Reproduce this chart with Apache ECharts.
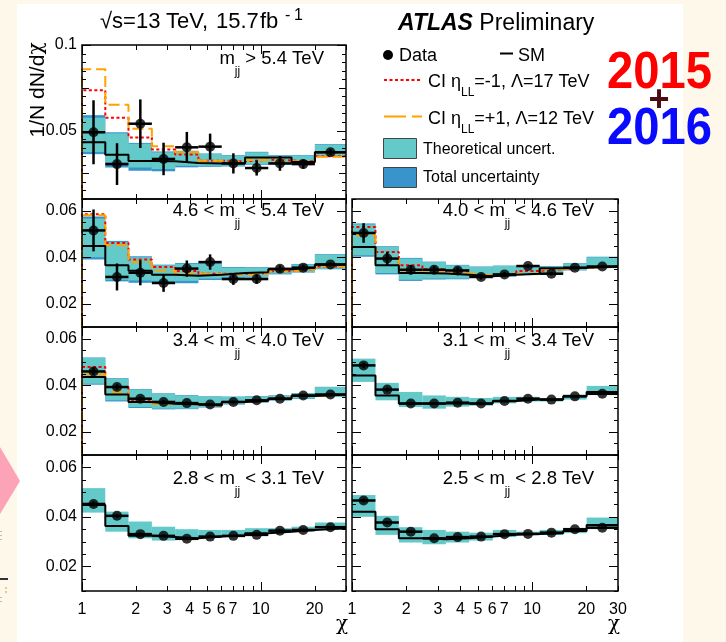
<!DOCTYPE html>
<html>
<head>
<meta charset="utf-8">
<script src="https://cdn.jsdelivr.net/npm/echarts@6/dist/echarts.min.js"></script>
<style>
  html, body { margin: 0; padding: 0; background: #fdf8ea; }
  #chart { width: 726px; height: 642px; }
</style>
</head>
<body>
<div id="chart"></div>
<script>
const FONT = '"Liberation Sans", Arial, Helvetica, sans-serif';
const GREEK = '"DejaVu Serif", "Liberation Serif", serif';

// chi binning
const chiEdges = [1, 1.35, 1.82, 2.46, 3.32, 4.48, 6.05, 8.17, 11.02, 14.88, 20.09, 30];
const chiCenters = [1.16, 1.57, 2.12, 2.86, 3.86, 5.21, 7.03, 9.49, 12.81, 17.29, 24.55];

// axis ticks and labels
const xLabelsLeft = [1, 2, 3, 4, 5, 6, 7, 10, 20];
const xLabelsRight = [1, 2, 3, 4, 5, 6, 7, 10, 20, 30];
const xMajorTicks = [1, 10];
const xMinorTicks = [2, 3, 4, 5, 6, 7, 8, 9, 20, 30];
const yLabelsTop = [0.05, 0.1];
const yMajorTop = [0.05, 0.1];
const yMediumTop = [0.025, 0.075];
const yLabelsLow = [0.02, 0.04, 0.06];

// dijet mass windows (TeV)
const massLo = [5.4, 4.6, 4.0, 3.4, 3.1, 2.8, 2.5];
const massHi = [null, 5.4, 4.6, 4.0, 3.4, 3.1, 2.8];

// m_jj > 5.4 TeV
const data0 = [0.0490, 0.0304, 0.0540, 0.0334, 0.0402, 0.0406, 0.0308, 0.0281, 0.0308, 0.0304, 0.0373];
const err0  = [0.0187, 0.0122, 0.0142, 0.0095, 0.0090, 0.0076, 0.0059, 0.0044, 0.0043, 0.0027, 0.0017];
const sm0   = [0.0431, 0.0359, 0.0322, 0.0320, 0.0310, 0.0308, 0.0308, 0.0343, 0.0343, 0.0316, 0.0373];
const th0Lo = [0.0375, 0.0314, 0.0284, 0.0275, 0.0294, 0.0294, 0.0294, 0.0304, 0.0304, 0.0310, 0.0353];
const th0Hi = [0.0575, 0.0484, 0.0423, 0.0373, 0.0379, 0.0363, 0.0353, 0.0373, 0.0353, 0.0353, 0.0418];
const tot0Lo = [0.0362, 0.0284, 0.0265, 0.0262, 0.0285, 0.0288, 0.0290, 0.0300, 0.0300, 0.0306, 0.0350];
const tot0Hi = [0.0590, 0.0490, 0.0428, 0.0378, 0.0382, 0.0366, 0.0356, 0.0376, 0.0356, 0.0356, 0.0421];
const ciM0  = [0.0735, 0.0575, 0.0460, 0.0390, 0.0360, 0.0324, 0.0320, 0.0330, 0.0325, 0.0320, 0.0350];
const ciP0  = [0.0859, 0.0651, 0.0510, 0.0408, 0.0373, 0.0324, 0.0316, 0.0328, 0.0322, 0.0314, 0.0347];

// 4.6 < m_jj < 5.4 TeV
const data1 = [0.0515, 0.0315, 0.0333, 0.0289, 0.0351, 0.0379, 0.0306, 0.0306, 0.0350, 0.0355, 0.0369];
const err1  = [0.0090, 0.0058, 0.0054, 0.0038, 0.0035, 0.0033, 0.0025, 0.0020, 0.0015, 0.0012, 0.0008];
const sm1   = [0.0448, 0.0365, 0.0342, 0.0325, 0.0320, 0.0325, 0.0332, 0.0335, 0.0348, 0.0355, 0.0367];
const th1Lo = [0.0400, 0.0303, 0.0300, 0.0298, 0.0298, 0.0308, 0.0315, 0.0315, 0.0329, 0.0336, 0.0350];
const th1Hi = [0.0566, 0.0465, 0.0400, 0.0365, 0.0372, 0.0372, 0.0355, 0.0355, 0.0350, 0.0369, 0.0411];
const tot1Lo = [0.0390, 0.0296, 0.0290, 0.0290, 0.0288, 0.0302, 0.0311, 0.0312, 0.0326, 0.0334, 0.0348];
const tot1Hi = [0.0575, 0.0470, 0.0404, 0.0368, 0.0375, 0.0375, 0.0358, 0.0357, 0.0352, 0.0371, 0.0413];
const ciM1  = [0.0584, 0.0461, 0.0390, 0.0358, 0.0341, 0.0329, 0.0329, 0.0331, 0.0340, 0.0348, 0.0360];
const ciP1  = [0.0580, 0.0451, 0.0379, 0.0343, 0.0329, 0.0327, 0.0325, 0.0329, 0.0340, 0.0348, 0.0360];

// 4.0 < m_jj < 4.6 TeV
const data2 = [0.0504, 0.0394, 0.0346, 0.0346, 0.0343, 0.0315, 0.0326, 0.0362, 0.0329, 0.0355, 0.0360];
const err2  = [0.0042, 0.0028, 0.0020, 0.0016, 0.0013, 0.0011, 0.0010, 0.0008, 0.0007, 0.0006, 0.0005];
const sm2   = [0.0444, 0.0365, 0.0332, 0.0330, 0.0325, 0.0318, 0.0325, 0.0329, 0.0352, 0.0355, 0.0360];
const th2Lo = [0.0408, 0.0332, 0.0303, 0.0308, 0.0308, 0.0315, 0.0318, 0.0325, 0.0330, 0.0345, 0.0355];
const th2Hi = [0.0541, 0.0444, 0.0394, 0.0379, 0.0365, 0.0358, 0.0362, 0.0360, 0.0360, 0.0372, 0.0400];
const tot2Lo = [0.0402, 0.0326, 0.0298, 0.0304, 0.0305, 0.0312, 0.0316, 0.0323, 0.0328, 0.0343, 0.0353];
const tot2Hi = [0.0545, 0.0447, 0.0397, 0.0381, 0.0367, 0.0360, 0.0364, 0.0362, 0.0362, 0.0374, 0.0402];
const ciM2  = [0.0530, 0.0422, 0.0365, 0.0348, 0.0338, 0.0322, 0.0328, 0.0341, 0.0348, 0.0355, 0.0360];
const ciP2  = [0.0494, 0.0394, 0.0343, 0.0335, 0.0330, 0.0322, 0.0328, 0.0330, 0.0348, 0.0355, 0.0360];

// 3.4 < m_jj < 4.0 TeV
const data3 = [0.0459, 0.0392, 0.0342, 0.0328, 0.0323, 0.0317, 0.0328, 0.0335, 0.0342, 0.0356, 0.0360];
const err3  = [0.0016, 0.0012, 0.0009, 0.0008, 0.0007, 0.0006, 0.0006, 0.0005, 0.0005, 0.0005, 0.0004];
const sm3   = [0.0435, 0.0360, 0.0328, 0.0320, 0.0318, 0.0313, 0.0328, 0.0333, 0.0342, 0.0353, 0.0360];
const th3Lo = [0.0406, 0.0335, 0.0306, 0.0299, 0.0299, 0.0306, 0.0318, 0.0326, 0.0335, 0.0342, 0.0350];
const th3Hi = [0.0517, 0.0428, 0.0381, 0.0363, 0.0355, 0.0350, 0.0350, 0.0352, 0.0355, 0.0365, 0.0392];
const tot3Lo = [0.0402, 0.0330, 0.0302, 0.0296, 0.0297, 0.0304, 0.0317, 0.0325, 0.0334, 0.0341, 0.0349];
const tot3Hi = [0.0519, 0.0430, 0.0383, 0.0365, 0.0357, 0.0352, 0.0351, 0.0353, 0.0356, 0.0366, 0.0393];
const ciM3  = [0.0478, 0.0392, 0.0335, 0.0322, 0.0318, 0.0313, 0.0328, 0.0333, 0.0342, 0.0353, 0.0360];
const ciP3  = [0.0447, 0.0371, 0.0330, 0.0320, 0.0318, 0.0313, 0.0328, 0.0333, 0.0342, 0.0353, 0.0360];

// 3.1 < m_jj < 3.4 TeV
const data4 = [0.0485, 0.0381, 0.0321, 0.0321, 0.0325, 0.0321, 0.0332, 0.0342, 0.0338, 0.0352, 0.0363];
const err4  = [0.0012, 0.0009, 0.0007, 0.0006, 0.0005, 0.0005, 0.0004, 0.0004, 0.0004, 0.0004, 0.0003];
const sm4   = [0.0442, 0.0356, 0.0321, 0.0321, 0.0321, 0.0321, 0.0332, 0.0338, 0.0338, 0.0352, 0.0371];
const th4Lo = [0.0414, 0.0335, 0.0306, 0.0299, 0.0308, 0.0312, 0.0322, 0.0330, 0.0330, 0.0338, 0.0360];
const th4Hi = [0.0514, 0.0410, 0.0371, 0.0356, 0.0350, 0.0345, 0.0350, 0.0350, 0.0345, 0.0360, 0.0397];

// 2.8 < m_jj < 3.1 TeV
const data5 = [0.0452, 0.0404, 0.0330, 0.0323, 0.0311, 0.0320, 0.0323, 0.0327, 0.0344, 0.0347, 0.0358];
const err5  = [0.0010, 0.0008, 0.0006, 0.0005, 0.0004, 0.0004, 0.0004, 0.0003, 0.0003, 0.0003, 0.0003];
const sm5   = [0.0448, 0.0363, 0.0323, 0.0318, 0.0313, 0.0320, 0.0325, 0.0334, 0.0340, 0.0347, 0.0354];
const th5Lo = [0.0417, 0.0340, 0.0313, 0.0304, 0.0309, 0.0318, 0.0318, 0.0334, 0.0336, 0.0340, 0.0347];
const th5Hi = [0.0516, 0.0421, 0.0381, 0.0360, 0.0350, 0.0347, 0.0347, 0.0354, 0.0354, 0.0360, 0.0377];

// 2.5 < m_jj < 2.8 TeV
const data6 = [0.0466, 0.0377, 0.0340, 0.0313, 0.0318, 0.0320, 0.0330, 0.0331, 0.0336, 0.0350, 0.0356];
const err6  = [0.0008, 0.0006, 0.0005, 0.0004, 0.0003, 0.0003, 0.0003, 0.0003, 0.0003, 0.0002, 0.0002];
const sm6   = [0.0421, 0.0350, 0.0313, 0.0309, 0.0313, 0.0320, 0.0327, 0.0331, 0.0334, 0.0343, 0.0367];
const th6Lo = [0.0400, 0.0327, 0.0296, 0.0289, 0.0296, 0.0304, 0.0318, 0.0327, 0.0327, 0.0334, 0.0350];
const th6Hi = [0.0488, 0.0404, 0.0358, 0.0347, 0.0340, 0.0336, 0.0347, 0.0340, 0.0347, 0.0354, 0.0397];

const panels = [
  { data: data0, err: err0, sm: sm0, thLo: th0Lo, thHi: th0Hi, totLo: tot0Lo, totHi: tot0Hi, ciM: ciM0, ciP: ciP0 },
  { data: data1, err: err1, sm: sm1, thLo: th1Lo, thHi: th1Hi, totLo: tot1Lo, totHi: tot1Hi, ciM: ciM1, ciP: ciP1 },
  { data: data2, err: err2, sm: sm2, thLo: th2Lo, thHi: th2Hi, totLo: tot2Lo, totHi: tot2Hi, ciM: ciM2, ciP: ciP2 },
  { data: data3, err: err3, sm: sm3, thLo: th3Lo, thHi: th3Hi, totLo: tot3Lo, totHi: tot3Hi, ciM: ciM3, ciP: ciP3 },
  { data: data4, err: err4, sm: sm4, thLo: th4Lo, thHi: th4Hi },
  { data: data5, err: err5, sm: sm5, thLo: th5Lo, thHi: th5Hi },
  { data: data6, err: err6, sm: sm6, thLo: th6Lo, thHi: th6Hi }
];

// pad layout
const colBox = [{ left: 82, width: 264 }, { left: 352, width: 266 }];
const rowBox = [{ top: 45, height: 154 }, { top: 199, height: 128 }, { top: 327, height: 128 }, { top: 455, height: 136 }];
const panelCell = [[0, 0], [1, 0], [1, 1], [2, 0], [2, 1], [3, 0], [3, 1]];
const labelBaseline = [65, 217, 347, 485];
const labelRight = [324, 594];

const COL_TH = '#63c9c9';
const COL_TOT = '#3a94cc';
const COL_RED = '#ff0000';
const COL_ORANGE = '#ffa200';

const L = Math.log10;
const LOGMAX = L(30);
const round4 = v => Math.round(v * 10000) / 10000;

// text layout helpers
const mctx = document.createElement('canvas').getContext('2d');
function fontOf(p) {
  return (p.italic ? 'italic ' : '') + (p.bold ? 'bold ' : '') + p.size + 'px ' + (p.family || FONT);
}
function widthOf(p) {
  mctx.font = fontOf(p);
  return mctx.measureText(p.t).width;
}
function textRun(parts, x, baseY, align, color) {
  const w = parts.map(widthOf);
  const total = w.reduce((a, b) => a + b, 0);
  let cx = align === 'right' ? x - total : align === 'center' ? x - total / 2 : x;
  return parts.map((p, k) => {
    const px = p.at !== undefined ? p.at : cx;
    const el = {
      type: 'text', silent: true, z: 10, x: px, y: baseY + (p.dy || 0) - 0.35 * p.size,
      style: { text: p.t, font: fontOf(p), fill: p.color || color || '#000', align: 'left', verticalAlign: 'middle' }
    };
    cx = px + w[k];
    return el;
  });
}

const grids = [], xAxes = [], yAxes = [], series = [];
let graphics = [];

panels.forEach((p, i) => {
  const [row, col] = panelCell[i];
  const isTop = row === 0;
  const yMin = 0.01, yMax = isTop ? 0.1 : 0.065;
  grids.push({
    left: colBox[col].left, width: colBox[col].width,
    top: rowBox[row].top, height: rowBox[row].height,
    containLabel: false, outerBoundsMode: 'none', show: false
  });
  xAxes.push({
    type: 'value', gridIndex: i, min: 0, max: LOGMAX, position: 'bottom',
    axisLine: { show: false }, axisTick: { show: false }, splitLine: { show: false },
    axisLabel: row === 3 ? {
      show: true, customValues: (col === 0 ? xLabelsLeft : xLabelsRight).map(L),
      formatter: v => String(Math.round(Math.pow(10, v))),
      margin: 11, fontSize: 16, fontFamily: FONT, color: '#000'
    } : { show: false }
  });
  yAxes.push({
    type: 'value', gridIndex: i, min: yMin, max: yMax, position: 'left',
    axisLine: { show: false }, axisTick: { show: false }, splitLine: { show: false },
    axisLabel: col === 0 ? {
      show: true, customValues: isTop ? yLabelsTop : yLabelsLow,
      formatter: v => String(+v.toFixed(3)),
      margin: 5, fontSize: 16, fontFamily: FONT, color: '#000'
    } : { show: false }
  });

  const band = (lo, hi, color) => ({
    type: 'custom', xAxisIndex: i, yAxisIndex: i, z: 1, silent: true,
    data: lo.map((v, k) => [L(chiEdges[k]), v, L(chiEdges[k + 1]), hi[k]]),
    encode: { x: [0, 2], y: [1, 3] },
    renderItem: (params, api) => {
      const a = api.coord([api.value(0), api.value(3)]);
      const b = api.coord([api.value(2), api.value(1)]);
      return { type: 'rect', shape: { x: a[0], y: a[1], width: b[0] - a[0], height: b[1] - a[1] }, style: { fill: color } };
    }
  });
  const step = (vals, color, dash, width, fromFloor, z) => {
    const pts = vals.map((v, k) => [L(chiEdges[k]), v]);
    pts.push([L(chiEdges[vals.length]), vals[vals.length - 1]]);
    if (fromFloor) pts.unshift([0, yMin]);
    return {
      type: 'line', xAxisIndex: i, yAxisIndex: i, step: 'end', data: pts, z: z,
      showSymbol: false, symbol: 'none', silent: true,
      lineStyle: { color: color, width: width, type: dash }
    };
  };

  if (p.totLo) series.push(band(p.totLo, p.totHi, COL_TOT));
  series.push(band(p.thLo, p.thHi, COL_TH));
  if (p.ciM) series.push(step(p.ciM, COL_RED, [3, 2.5], 2, true, 2));
  if (p.ciP) series.push(step(p.ciP, COL_ORANGE, [11, 5], 2, true, 2));
  series.push(step(p.sm, '#000', 'solid', 2, false, 3));

  // data: error bars across the bin, then markers
  series.push({
    type: 'custom', xAxisIndex: i, yAxisIndex: i, z: 4, silent: true,
    data: p.data.map((v, k) => [L(chiCenters[k]), v, p.err[k], L(chiEdges[k]), L(chiEdges[k + 1])]),
    encode: { x: 0, y: 1 },
    renderItem: (params, api) => {
      const xc = api.value(0), y = api.value(1), e = api.value(2);
      const t = api.coord([xc, y + e]), b = api.coord([xc, y - e]);
      const l = api.coord([api.value(3), y]), r = api.coord([api.value(4), y]);
      return {
        type: 'group', children: [
          { type: 'line', shape: { x1: t[0], y1: t[1], x2: b[0], y2: b[1] }, style: { stroke: '#000', lineWidth: 2.5 } },
          { type: 'line', shape: { x1: l[0], y1: l[1], x2: r[0], y2: r[1] }, style: { stroke: '#000', lineWidth: 2.5 } }
        ]
      };
    }
  });
  series.push({
    type: 'scatter', xAxisIndex: i, yAxisIndex: i, z: 5, silent: true,
    symbol: 'circle', symbolSize: 10, itemStyle: { color: '#000' },
    data: p.data.map((v, k) => [L(chiCenters[k]), v])
  });

  // inward ticks on all four sides
  const ticks = [];
  xMajorTicks.forEach(t => ticks.push([L(t), yMin, 0, 9]));
  xMinorTicks.forEach(t => ticks.push([L(t), yMin, 0, 5]));
  for (let k = 0; ; k++) {
    const v = round4(yMin + k * 0.005);
    if (v > yMax + 1e-9) break;
    let len = 4;
    if (isTop) {
      if (yMajorTop.some(m => Math.abs(m - v) < 1e-9)) len = 9;
      else if (yMediumTop.some(m => Math.abs(m - v) < 1e-9)) len = 7;
    } else if (yLabelsLow.some(m => Math.abs(m - v) < 1e-9)) len = 9;
    ticks.push([0, v, 1, len]);
  }
  series.push({
    type: 'custom', xAxisIndex: i, yAxisIndex: i, z: 6, silent: true,
    data: ticks, encode: { x: 0, y: 1 },
    renderItem: (params, api) => {
      const cs = params.coordSys;
      const pt = api.coord([api.value(0), api.value(1)]);
      const len = api.value(3);
      const st = { stroke: '#000', lineWidth: 1 };
      if (api.value(2) === 0) {
        const x = Math.round(pt[0]) + 0.5;
        return { type: 'group', children: [
          { type: 'line', shape: { x1: x, y1: cs.y + cs.height, x2: x, y2: cs.y + cs.height - len }, style: st },
          { type: 'line', shape: { x1: x, y1: cs.y, x2: x, y2: cs.y + len }, style: st }
        ] };
      }
      const y = Math.round(pt[1]) + 0.5;
      return { type: 'group', children: [
        { type: 'line', shape: { x1: cs.x, y1: y, x2: cs.x + len, y2: y }, style: st },
        { type: 'line', shape: { x1: cs.x + cs.width, y1: y, x2: cs.x + cs.width - len, y2: y }, style: st }
      ] };
    }
  });
  // pad frame
  series.push({
    type: 'custom', xAxisIndex: i, yAxisIndex: i, z: 7, silent: true,
    data: [[0, yMin]], encode: { x: 0, y: 1 },
    renderItem: (params) => {
      const cs = params.coordSys;
      return { type: 'rect', shape: { x: cs.x, y: cs.y, width: cs.width, height: cs.height },
        style: { fill: 'none', stroke: '#000', lineWidth: 1.5 } };
    }
  });

  // mass window label
  const fs = 18.5;
  const sub = { t: 'jj', size: 12, dy: 11 };
  const parts = massHi[i] === null
    ? [{ t: 'm', size: fs }, sub, { t: ' > ' + massLo[i].toFixed(1) + ' TeV', size: fs }]
    : [{ t: massLo[i].toFixed(1) + ' < m', size: fs }, sub, { t: ' < ' + massHi[i].toFixed(1) + ' TeV', size: fs }];
  graphics = graphics.concat(textRun(parts, labelRight[col], labelBaseline[row], 'right'));
});

// page background, header, legend and decorations
graphics.unshift({ type: 'rect', z: -10, silent: true, shape: { x: 17, y: 4, width: 666, height: 638 }, style: { fill: '#ffffff' } });
graphics.push(
  { type: 'polygon', z: 9, silent: true, shape: { points: [[0, 447], [20, 481], [0, 514]] }, style: { fill: '#fda3b7' } },
  { type: 'rect', z: 9, silent: true, shape: { x: 0, y: 531, width: 2, height: 1 }, style: { fill: '#bbbbbb' } },
  { type: 'rect', z: 9, silent: true, shape: { x: 0, y: 535, width: 2, height: 1 }, style: { fill: '#bbbbbb' } },
  { type: 'rect', z: 9, silent: true, shape: { x: 0, y: 539, width: 2, height: 1 }, style: { fill: '#bbbbbb' } },
  { type: 'rect', z: 9, silent: true, shape: { x: 0, y: 578, width: 8, height: 2 }, style: { fill: '#333333' } },
  { type: 'rect', z: 9, silent: true, shape: { x: 5, y: 587, width: 2, height: 2 }, style: { fill: '#e6c98c' } },
  { type: 'rect', z: 9, silent: true, shape: { x: 5, y: 591, width: 2, height: 2 }, style: { fill: '#e6c98c' } },
  { type: 'rect', z: 9, silent: true, shape: { x: 0, y: 597, width: 2, height: 1 }, style: { fill: '#bbbbbb' } },
  { type: 'rect', z: 9, silent: true, shape: { x: 0, y: 601, width: 2, height: 1 }, style: { fill: '#bbbbbb' } }
);

// header title, with the wide word spacing of the original typesetting
graphics = graphics.concat(
  textRun([
    { t: '√s=13', size: 22, at: 100 },
    { t: 'TeV,', size: 22, at: 166 },
    { t: '15.7', size: 22, at: 216 },
    { t: 'fb', size: 22, at: 260 },
    { t: '-', size: 16, dy: -9, at: 285 },
    { t: '1', size: 16, dy: -9, at: 294 }
  ], 100, 30, 'left'),
  textRun([{ t: 'ATLAS', size: 23, bold: true, italic: true }, { t: ' Preliminary', size: 23 }], 398, 31.5, 'left'),
  textRun([{ t: 'Data', size: 18 }], 399, 62, 'left'),
  textRun([{ t: 'SM', size: 18 }], 518, 62, 'left'),
  textRun([{ t: 'CI η', size: 18 }, { t: 'LL', size: 12, dy: 9 }, { t: '=-1, Λ=17 TeV', size: 18 }], 428, 88, 'left'),
  textRun([{ t: 'CI η', size: 18 }, { t: 'LL', size: 12, dy: 9 }, { t: '=+1, Λ=12 TeV', size: 18 }], 428, 125, 'left'),
  textRun([{ t: 'Theoretical uncert.', size: 16 }], 423, 155, 'left'),
  textRun([{ t: 'Total uncertainty', size: 16 }], 423, 183, 'left')
);

// rotated y title: "1/N dN/d" followed by a serif chi, reading upwards
(function () {
  const a = { t: '1/N dN/d', size: 21 };
  const b = { t: 'χ', size: 20, family: GREEK };
  const wa = widthOf(a), wb = widthOf(b);
  const yc = 90, x = 38, y0 = yc + (wa + wb) / 2;
  graphics.push(
    { type: 'text', z: 10, silent: true, x: x, y: y0, rotation: Math.PI / 2,
      style: { text: a.t, font: fontOf(a), fill: '#000', align: 'left', verticalAlign: 'middle' } },
    { type: 'text', z: 10, silent: true, x: x - 1, y: y0 - wa, rotation: Math.PI / 2,
      style: { text: b.t, font: fontOf(b), fill: '#000', align: 'left', verticalAlign: 'middle' } }
  );
})();

graphics.push(
  { type: 'circle', z: 10, silent: true, shape: { cx: 388, cy: 55, r: 5 }, style: { fill: '#000' } },
  { type: 'line', z: 10, silent: true, shape: { x1: 500, y1: 53.5, x2: 513, y2: 53.5 }, style: { stroke: '#000', lineWidth: 2 } },
  { type: 'line', z: 10, silent: true, shape: { x1: 384, y1: 80, x2: 422, y2: 80 }, style: { stroke: COL_RED, lineWidth: 2, lineDash: [3, 2.5] } },
  { type: 'line', z: 10, silent: true, shape: { x1: 384, y1: 116.5, x2: 422, y2: 116.5 }, style: { stroke: COL_ORANGE, lineWidth: 2, lineDash: [22, 6] } },
  { type: 'rect', z: 10, silent: true, shape: { x: 383.5, y: 138.5, width: 33, height: 20 }, style: { fill: COL_TH, stroke: '#444', lineWidth: 1 } },
  { type: 'rect', z: 10, silent: true, shape: { x: 383.5, y: 167.5, width: 33, height: 20 }, style: { fill: COL_TOT, stroke: '#444', lineWidth: 1 } },
  // x-axis titles
  { type: 'text', z: 10, silent: true, x: 342, y: 625,
    style: { text: 'χ', font: '20px ' + GREEK, fill: '#000', align: 'center', verticalAlign: 'middle' } },
  { type: 'text', z: 10, silent: true, x: 614, y: 625,
    style: { text: 'χ', font: '20px ' + GREEK, fill: '#000', align: 'center', verticalAlign: 'middle' } },
  // dataset years
  { type: 'text', z: 10, silent: true, x: 607, y: 92 - 0.35 * 51, scaleX: 0.926, originX: 0, originY: 0,
    style: { text: '2015', font: 'bold 51px ' + FONT, fill: '#ff0000', align: 'left', verticalAlign: 'middle' } },
  { type: 'text', z: 10, silent: true, x: 659, y: 101,
    style: { text: '+', font: 'bold 36px ' + FONT, fill: '#4b0c14', align: 'center', verticalAlign: 'middle' } },
  { type: 'text', z: 10, silent: true, x: 607, y: 148 - 0.35 * 51, scaleX: 0.926, originX: 0, originY: 0,
    style: { text: '2016', font: 'bold 51px ' + FONT, fill: '#0a0aff', align: 'left', verticalAlign: 'middle' } }
);

const chart = echarts.init(document.getElementById('chart'), null, { renderer: 'canvas' });
chart.setOption({
  backgroundColor: '#fdf8ea',
  animation: false,
  grid: grids,
  xAxis: xAxes,
  yAxis: yAxes,
  series: series,
  graphic: { elements: graphics }
});
</script>
</body>
</html>
